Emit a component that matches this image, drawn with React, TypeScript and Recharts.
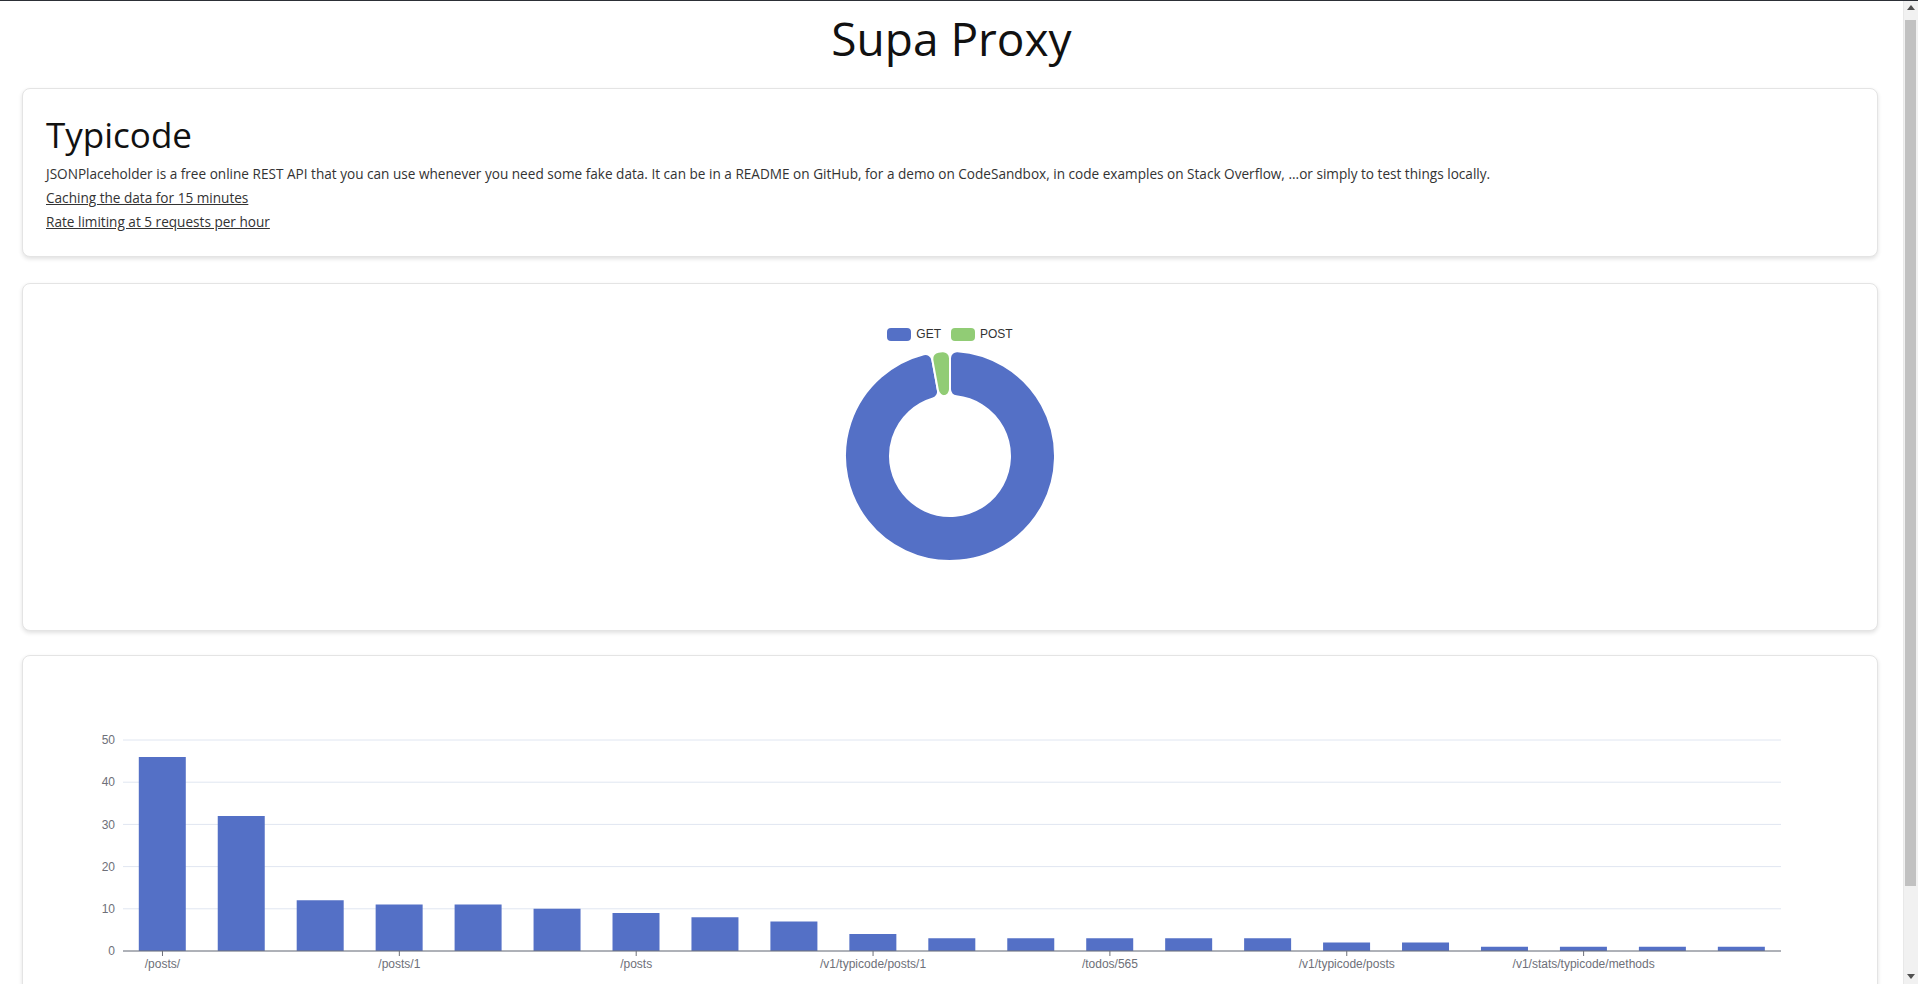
import React from "react";
import {
  PieChart,
  Pie,
  Cell,
  Legend,
  BarChart,
  Bar,
  XAxis,
  YAxis,
  CartesianGrid,
} from "recharts";

const methodNames = ["GET", "POST"];
const methodCounts = [168, 5];
const methodColors = ["#5470C6", "#91CC75"];

const pathNames = [
  "/posts/",
  "/comments",
  "/users",
  "/posts/1",
  "/todos",
  "/albums",
  "/posts",
  "/photos",
  "/users/1",
  "/v1/typicode/posts/1",
  "/v1/typicode/todos",
  "/comments/1",
  "/todos/565",
  "/albums/1",
  "/photos/1",
  "/v1/typicode/posts",
  "/v1/stats/typicode",
  "/todos/1",
  "/v1/stats/typicode/methods",
  "/v1/typicode/users",
  "/v1/stats/typicode/paths",
];
const pathCounts = [46, 32, 12, 11, 11, 10, 9, 8, 7, 4, 3, 3, 3, 3, 3, 2, 2, 1, 1, 1, 1];
const countTicks = [0, 10, 20, 30, 40, 50];

const pageFont = "'Open Sans', 'Noto Sans', sans-serif";
const chartFont = "'Liberation Sans', Arial, sans-serif";
const axisGrey = "#6E7079";

const card: React.CSSProperties = {
  marginLeft: 22,
  width: 1856,
  boxSizing: "border-box",
  background: "#fff",
  border: "1px solid #e4e4e4",
  borderRadius: 8,
  boxShadow: "0 2px 4px rgba(0,0,0,0.12)",
};

const linkStyle: React.CSSProperties = {
  display: "block",
  color: "#333",
  textDecoration: "underline",
  lineHeight: "24px",
};

const MethodLegend = (props: any) => {
  const items = props.payload || [];
  return (
    <div style={{ display: "flex", justifyContent: "center", gap: 10, fontFamily: chartFont, fontSize: 12, color: "#333" }}>
      {items.map((it: any) => (
        <div key={it.value} style={{ display: "flex", alignItems: "center" }}>
          <span style={{ display: "inline-block", width: 24, height: 13, borderRadius: 4, background: it.color, marginRight: 5 }} />
          <span>{it.value}</span>
        </div>
      ))}
    </div>
  );
};

// the window scrollbar seen in the screenshot
const FakeScrollbar = () => (
  <div style={{ position: "fixed", left: 1903, top: 0, width: 15, height: 984, background: "#f1f1f1", borderLeft: "1px solid #e8e8e8", boxSizing: "border-box" }}>
    <div style={{ position: "absolute", left: 3, top: 5, width: 0, height: 0, borderLeft: "4px solid transparent", borderRight: "4px solid transparent", borderBottom: "5px solid #505050" }} />
    <div style={{ position: "absolute", left: 1, top: 20, width: 11, height: 866, background: "#c1c1c1" }} />
    <div style={{ position: "absolute", left: 3, top: 974, width: 0, height: 0, borderLeft: "4px solid transparent", borderRight: "4px solid transparent", borderTop: "5px solid #505050" }} />
  </div>
);

export default function App() {
  const methodData = methodNames.map((name, i) => ({ name, value: methodCounts[i] }));
  const pathData = pathNames.map((path, i) => ({ path, count: pathCounts[i] }));

  return (
    <div style={{ fontFamily: pageFont, margin: -8, width: 1903, height: 1090, overflow: "hidden", position: "relative" }}>
      <div style={{ position: "fixed", left: 0, top: 0, width: 1918, height: 1, background: "#2c2f36", zIndex: 2 }} />
      <h1 style={{ margin: 0, paddingTop: 8, height: 79, boxSizing: "border-box", textAlign: "center", fontSize: 46, fontWeight: 400, lineHeight: "60px", color: "#111" }}>
        Supa Proxy
      </h1>

      <div style={{ ...card, marginTop: 9, height: 169, padding: "26px 24px 0 23px" }}>
        <h2 style={{ margin: "0 0 7px", fontSize: 35, fontWeight: 400, lineHeight: "40px", color: "#111" }}>Typicode</h2>
        <div style={{ fontSize: 13.6, color: "#333", lineHeight: "24px" }}>
          JSONPlaceholder is a free online REST API that you can use whenever you need some fake data. It can be in a README on GitHub, for a demo on CodeSandbox, in code examples on Stack Overflow, ...or simply to test things locally.
          <a href="#" style={linkStyle}>Caching the data for 15 minutes</a>
          <a href="#" style={linkStyle}>Rate limiting at 5 requests per hour</a>
        </div>
      </div>

      <div style={{ ...card, marginTop: 26, height: 348 }}>
        <PieChart width={1854} height={346} margin={{ top: 0, right: 0, bottom: 0, left: 0 }}>
          <Legend
            verticalAlign="top"
            content={<MethodLegend />}
            wrapperStyle={{ top: 43, left: 0, width: 1854 }}
          />
          <Pie
            data={methodData}
            dataKey="value"
            nameKey="name"
            cx={927}
            cy={158}
            innerRadius={60}
            outerRadius={105}
            startAngle={90}
            endAngle={-270}
            cornerRadius={7}
            stroke="#fff"
            strokeWidth={2}
            isAnimationActive={false}
          >
            {methodData.map((d, i) => (
              <Cell key={d.name} fill={methodColors[i]} />
            ))}
          </Pie>
        </PieChart>
      </div>

      <div style={{ ...card, marginTop: 24, height: 404 }}>
        <BarChart
          width={1854}
          height={402}
          data={pathData}
          margin={{ top: 84, right: 96, bottom: 77, left: 60 }}
          barCategoryGap="20%"
          style={{ fontFamily: chartFont }}
        >
          <CartesianGrid vertical={false} stroke="#E0E6F1" />
          <XAxis
            dataKey="path"
            interval={2}
            height={30}
            tickSize={5}
            tickMargin={3}
            stroke={axisGrey}
            tick={{ fill: axisGrey, fontSize: 12 }}
            axisLine={{ stroke: axisGrey }}
            tickLine={{ stroke: axisGrey }}
          />
          <YAxis
            width={40}
            domain={[0, 50]}
            ticks={countTicks}
            axisLine={false}
            tickLine={false}
            tickSize={0}
            tickMargin={8}
            tick={{ fill: axisGrey, fontSize: 12 }}
          />
          <Bar dataKey="count" fill="#5470C6" isAnimationActive={false} />
        </BarChart>
      </div>
      <FakeScrollbar />
    </div>
  );
}
